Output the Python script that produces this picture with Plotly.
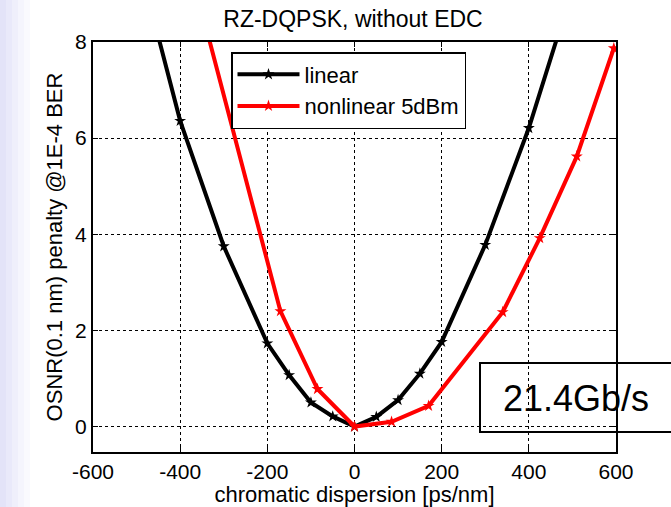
import plotly.graph_objects as go

# ---- data ----
linear_x = [-500, -400, -300, -200, -150, -100, -50, 0, 50, 100, 150, 200, 300, 400, 500]
linear_y = [9.85, 6.36, 3.75, 1.73, 1.07, 0.50, 0.21, 0.0, 0.20, 0.55, 1.10, 1.76, 3.78, 6.21, 9.10]

nonlin_x = [-340, -170, -85, 0, 85, 170, 340, 425, 510, 595]
nonlin_y = [8.28, 2.40, 0.78, 0.0, 0.10, 0.43, 2.38, 3.92, 5.62, 7.87]

x_ticks = [-600, -400, -200, 0, 200, 400, 600]
y_ticks = [0, 2, 4, 6, 8]

title_text = "RZ-DQPSK, without EDC"
x_title = "chromatic dispersion [ps/nm]"
y_title = "OSNR(0.1 nm) penalty @1E-4 BER"
rate_text = "21.4Gb/s"

FONT = "Liberation Sans, Arial, sans-serif"

W, H = 671, 507
L, R, T, B = 93, 55, 42, 55
pw, ph = W - L - R, H - T - B


def px_to_paper_x(px):
    return (px - L) / pw


def px_to_paper_y(py):
    return (H - B - py) / ph


fig = go.Figure()
fig.add_trace(go.Scatter(
    x=linear_x, y=linear_y, mode="lines+markers", name="linear",
    line=dict(color="black", width=4),
    marker=dict(symbol="star", size=9, color="black"),
))
fig.add_trace(go.Scatter(
    x=nonlin_x, y=nonlin_y, mode="lines+markers", name="nonlinear 5dBm",
    line=dict(color="#ff0000", width=4),
    marker=dict(symbol="star", size=9, color="#ff0000"),
))

shapes = []
# lavender fade on the left edge
fade = [(0, 6, 0.95), (6, 12, 0.75), (12, 18, 0.55), (18, 24, 0.35), (24, 30, 0.18)]
for a, b_, op in fade:
    shapes.append(dict(type="rect", xref="paper", yref="paper", layer="below",
                       x0=px_to_paper_x(a), x1=px_to_paper_x(b_),
                       y0=px_to_paper_y(H), y1=px_to_paper_y(0),
                       fillcolor="rgb(226,226,248)", opacity=op, line=dict(width=0)))
# 21.4Gb/s box
shapes.append(dict(type="rect", xref="paper", yref="paper", layer="above",
                   x0=px_to_paper_x(480), x1=px_to_paper_x(690),
                   y0=px_to_paper_y(432), y1=px_to_paper_y(363),
                   fillcolor="rgba(0,0,0,0)", line=dict(color="black", width=2)))

fig.update_layout(
    width=W, height=H,
    margin=dict(l=L, r=R, t=T, b=B, autoexpand=False),
    paper_bgcolor="white", plot_bgcolor="white",
    font=dict(family=FONT, size=22, color="black"),
    title=dict(text=title_text, x=px_to_paper_x(353), xref="paper", xanchor="center",
               y=1 - 19 / H, yref="container", yanchor="middle",
               font=dict(family=FONT, size=23, color="black")),
    showlegend=True,
    legend=dict(x=px_to_paper_x(231), y=px_to_paper_y(52), xanchor="left", yanchor="top",
                bgcolor="white", bordercolor="black", borderwidth=1.5,
                font=dict(family=FONT, size=22, color="black"),
                itemwidth=62, tracegroupgap=0),
    shapes=shapes,
    annotations=[dict(text=rate_text, xref="paper", yref="paper",
                      x=px_to_paper_x(501), y=px_to_paper_y(398), xanchor="left", yanchor="middle",
                      showarrow=False, font=dict(family=FONT, size=36, color="black"))],
)

fig.update_xaxes(
    range=[-600, 600], tickmode="array", tickvals=x_ticks, ticktext=[str(v) for v in x_ticks],
    showline=True, linecolor="black", linewidth=2, mirror="ticks",
    ticks="inside", ticklen=5, tickwidth=1, tickcolor="black",
    showgrid=True, gridcolor="black", gridwidth=1, griddash="3px,3px",
    zeroline=False, tickfont=dict(family=FONT, size=21, color="black"),
    title=dict(text=x_title, standoff=8, font=dict(family=FONT, size=22, color="black")),
    automargin=False,
)
fig.update_yaxes(
    range=[-0.53, 8], tickmode="array", tickvals=y_ticks, ticktext=[str(v) for v in y_ticks],
    showline=True, linecolor="black", linewidth=2, mirror="ticks",
    ticks="inside", ticklen=5, tickwidth=1, tickcolor="black",
    showgrid=True, gridcolor="black", gridwidth=1, griddash="3px,3px",
    zeroline=False, tickfont=dict(family=FONT, size=21, color="black"),
    title=dict(text=y_title, standoff=6, font=dict(family=FONT, size=22, color="black")),
    automargin=False,
)

fig.write_html("out.html")
